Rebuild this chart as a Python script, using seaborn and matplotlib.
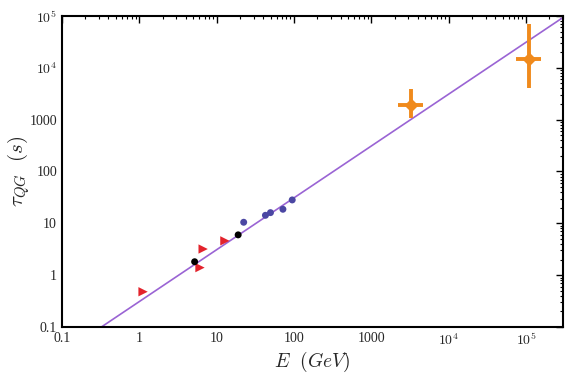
import matplotlib
matplotlib.use("Agg")
import matplotlib.pyplot as plt
import matplotlib.ticker as mticker
import seaborn as sns
import pandas as pd
import numpy as np

# data (E in GeV, tau in s)
red_E = [1.12, 6.1, 6.7, 12.8]
red_tau = [0.48, 1.40, 3.2, 4.6]
black_E = [5.2, 19.0]
black_tau = [1.82, 6.0]
blue_E = [22.4, 42.8, 49.7, 72.0, 95.0]
blue_tau = [10.5, 14.3, 16.1, 18.7, 28.3]
orange_E = [3300, 1.11e5]
orange_tau = [1905, 1.49e4]
orange_E_lo = [2210, 7.5e4]
orange_E_hi = [4660, 1.55e5]
orange_tau_lo = [1070, 4050]
orange_tau_hi = [3880, 7.0e4]
fit_E = [0.1, 3e5]
fit_slope = 0.31  # tau = slope * E

sns.set_style("white")
plt.rcParams["font.family"] = ["Liberation Serif", "DejaVu Serif"]
plt.rcParams["mathtext.fontset"] = "cm"

fig = plt.figure(figsize=(5.68, 3.79), dpi=100)
ax = fig.add_axes([0.109, 0.137, 0.882, 0.821])

line_df = pd.DataFrame({"E": fit_E, "tau": [fit_slope * e for e in fit_E]})
sns.lineplot(data=line_df, x="E", y="tau", ax=ax, color="#9a64d4", linewidth=1.2)

sns.scatterplot(x=red_E, y=red_tau, ax=ax, marker=">", s=45, color="#e3232c",
                edgecolor="none", zorder=3)
sns.scatterplot(x=black_E, y=black_tau, ax=ax, marker="o", s=25, color="black",
                edgecolor="none", zorder=3)
sns.scatterplot(x=blue_E, y=blue_tau, ax=ax, marker="o", s=25, color="#4b47a3",
                edgecolor="none", zorder=3)

oE = np.array(orange_E)
oT = np.array(orange_tau)
xerr = [oE - np.array(orange_E_lo), np.array(orange_E_hi) - oE]
yerr = [oT - np.array(orange_tau_lo), np.array(orange_tau_hi) - oT]
ax.errorbar(oE, oT, xerr=xerr, yerr=yerr, fmt="D", color="#f08a1c",
            markersize=6, elinewidth=2.8, capsize=0, zorder=4)

ax.set_xscale("log")
ax.set_yscale("log")
ax.set_xlim(0.1, 3e5)
ax.set_ylim(0.1, 1e5)


def fmt(v, pos):
    if v >= 1e4:
        return r"$10^{%d}$" % int(round(np.log10(v)))
    if v < 1:
        return "0.1"
    return "%d" % int(round(v))


ax.xaxis.set_major_locator(mticker.LogLocator(base=10, numticks=12))
ax.yaxis.set_major_locator(mticker.LogLocator(base=10, numticks=12))
ax.xaxis.set_major_formatter(mticker.FuncFormatter(fmt))
ax.yaxis.set_major_formatter(mticker.FuncFormatter(fmt))
ax.xaxis.set_minor_locator(mticker.LogLocator(base=10, subs=np.arange(2, 10), numticks=12))
ax.yaxis.set_minor_locator(mticker.LogLocator(base=10, subs=np.arange(2, 10), numticks=12))
ax.xaxis.set_minor_formatter(mticker.NullFormatter())
ax.yaxis.set_minor_formatter(mticker.NullFormatter())

ax.tick_params(which="both", direction="in", top=True, right=True, labelsize=10,
               color="black")
ax.tick_params(which="major", length=5, width=1.0)
ax.tick_params(which="minor", length=2.5, width=0.8)
for s in ax.spines.values():
    s.set_linewidth(1.5)
    s.set_color("black")

ax.set_xlabel(r"$E\ \ (GeV)$", fontsize=14)
ax.set_ylabel(r"$\tau_{QG}\ \ (s)$", fontsize=15)
ax.xaxis.set_label_coords(0.5, -0.072)
ax.yaxis.set_label_coords(-0.06, 0.5)

fig.savefig("out.png", dpi=100)
